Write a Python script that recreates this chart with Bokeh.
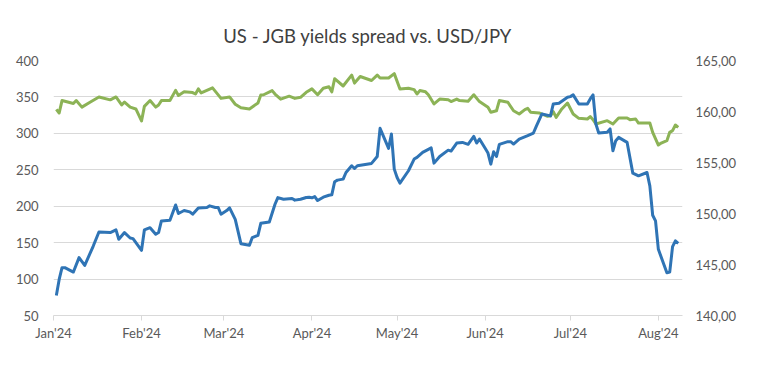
import pandas as pd
from bokeh.plotting import figure
from bokeh.models import Range1d, LinearAxis, FixedTicker
from bokeh.embed import file_html
from bokeh.resources import INLINE

# ---- data ----
spread_dates = ["2024-01-02","2024-01-03","2024-01-04","2024-01-08","2024-01-09","2024-01-11","2024-01-14",
    "2024-01-17","2024-01-21","2024-01-23","2024-01-25","2024-01-26","2024-01-28","2024-01-30","2024-02-01",
    "2024-02-02","2024-02-04","2024-02-06","2024-02-07","2024-02-08","2024-02-11","2024-02-13","2024-02-14",
    "2024-02-16","2024-02-19","2024-02-20","2024-02-21","2024-02-22","2024-02-26","2024-02-29","2024-03-03",
    "2024-03-05","2024-03-07","2024-03-10","2024-03-13","2024-03-14","2024-03-15","2024-03-18","2024-03-19",
    "2024-03-21","2024-03-24","2024-03-26","2024-03-28","2024-03-30","2024-04-01","2024-04-03","2024-04-05",
    "2024-04-07","2024-04-08","2024-04-09","2024-04-12","2024-04-15","2024-04-16","2024-04-18","2024-04-22",
    "2024-04-24","2024-04-25","2024-04-28","2024-04-30","2024-05-02","2024-05-05","2024-05-07","2024-05-08",
    "2024-05-09","2024-05-11","2024-05-12","2024-05-14","2024-05-16","2024-05-19","2024-05-20","2024-05-22",
    "2024-05-23","2024-05-26","2024-05-28","2024-05-30","2024-06-02","2024-06-03","2024-06-05","2024-06-06",
    "2024-06-09","2024-06-11","2024-06-13","2024-06-15","2024-06-16","2024-06-17","2024-06-20","2024-06-23",
    "2024-06-24","2024-06-25","2024-06-26","2024-06-28","2024-06-30","2024-07-02","2024-07-04","2024-07-07",
    "2024-07-08","2024-07-09","2024-07-10","2024-07-14","2024-07-16","2024-07-18","2024-07-21","2024-07-22",
    "2024-07-24","2024-07-25","2024-07-29","2024-07-30","2024-08-01","2024-08-02","2024-08-04","2024-08-05",
    "2024-08-06","2024-08-07","2024-08-08"]
spread_values = [333,328,345,341,345,336,343,350,346,350,339,343,336,333.5,317,
    337,345,336,339,345,345,359,352,357,356,354,361,355.5,362.4,348,350,
    340,335,333.5,341.7,352.8,353,358.7,354,347,351,348,349.5,356.4,361,353,362,
    364,357,375,365,380,369,378,372.5,380,376,376,382,361,362,360,354,
    358.7,357,353,340.4,347,346,343.6,347,345,344,353,343.6,335.8,329,331,345,
    342.7,331,326.6,332.6,334.4,329,328,323.4,324,329.8,322,333.5,341.7,326.6,320.6,319.7,
    323,318.8,312.8,317.4,312.8,321,321,318.8,319.7,314.2,314.2,301.4,284,286.7,290,301.4,
    303.7,311.5,308.3]

usdjpy_dates = ["2024-01-02","2024-01-03","2024-01-04","2024-01-05","2024-01-08","2024-01-10","2024-01-12",
    "2024-01-15","2024-01-17","2024-01-21","2024-01-23","2024-01-24","2024-01-26","2024-01-28","2024-01-29",
    "2024-02-01","2024-02-02","2024-02-04","2024-02-06","2024-02-07","2024-02-08","2024-02-11","2024-02-13",
    "2024-02-14","2024-02-16","2024-02-18","2024-02-19","2024-02-21","2024-02-24","2024-02-25","2024-02-27",
    "2024-02-28","2024-02-29","2024-03-02","2024-03-03","2024-03-05","2024-03-07","2024-03-10","2024-03-11",
    "2024-03-13","2024-03-14","2024-03-17","2024-03-19","2024-03-20","2024-03-22","2024-03-25","2024-03-26",
    "2024-03-28","2024-03-30","2024-03-31","2024-04-01","2024-04-02","2024-04-03","2024-04-05","2024-04-07",
    "2024-04-08","2024-04-09","2024-04-10","2024-04-12","2024-04-13","2024-04-15","2024-04-16","2024-04-17",
    "2024-04-22","2024-04-24","2024-04-25","2024-04-28","2024-04-29","2024-04-30","2024-05-01","2024-05-02",
    "2024-05-05","2024-05-07","2024-05-08","2024-05-10","2024-05-13","2024-05-14","2024-05-16","2024-05-19",
    "2024-05-20","2024-05-22","2024-05-24","2024-05-26","2024-05-28","2024-05-29","2024-05-30","2024-06-01",
    "2024-06-02","2024-06-03","2024-06-04","2024-06-05","2024-06-06","2024-06-09","2024-06-10","2024-06-11",
    "2024-06-13","2024-06-16","2024-06-18","2024-06-19","2024-06-21","2024-06-24","2024-06-25","2024-06-27",
    "2024-06-30","2024-07-01","2024-07-02","2024-07-04","2024-07-07","2024-07-08","2024-07-09","2024-07-10",
    "2024-07-11","2024-07-14","2024-07-15","2024-07-16","2024-07-17","2024-07-18","2024-07-21","2024-07-23",
    "2024-07-25","2024-07-28","2024-07-29","2024-07-30","2024-07-31","2024-08-01","2024-08-04","2024-08-05",
    "2024-08-06","2024-08-07","2024-08-08"]
usdjpy_values = [141.96,143.54,144.69,144.69,144.26,145.67,144.91,
    146.81,148.19,148.13,148.39,147.47,148.13,147.60,147.54,
    146.39,148.39,148.61,147.96,148.13,149.27,149.34,150.84,
    150.00,150.29,150.16,149.93,150.55,150.59,150.75,150.59,
    150.59,149.93,150.29,150.55,149.43,147.04,146.88,147.64,
    147.86,149.04,149.17,150.91,151.56,151.40,151.47,151.31,
    151.40,151.57,151.60,151.54,151.66,151.27,151.60,151.79,
    151.83,153.11,153.27,153.37,154.02,154.68,154.41,154.68,
    154.91,155.59,158.35,156.39,157.79,154.35,153.53,152.98,
    154.19,155.34,155.50,155.99,156.43,154.94,155.59,156.21,
    156.12,156.91,156.97,156.78,157.56,156.91,157.30,156.39,
    155.93,154.84,156.06,155.59,156.78,157.04,157.04,156.81,
    157.30,157.63,157.89,158.54,159.76,159.57,160.74,160.81,
    161.39,161.46,161.63,160.74,160.74,161.23,161.63,158.77,
    157.89,157.96,158.29,156.15,157.14,157.46,156.97,153.96,
    153.69,154.02,152.71,149.83,149.27,146.49,144.19,144.26,
    146.75,147.31,147.08]

month_ticks = ["2024-01-01","2024-02-01","2024-03-01","2024-04-01","2024-05-01","2024-06-01","2024-07-01","2024-08-01"]
month_labels = ["Jan'24","Feb'24","Mar'24","Apr'24","May'24","Jun'24","Jul'24","Aug'24"]
left_ticks = [50, 100, 150, 200, 250, 300, 350, 400]
right_ticks = [140, 145, 150, 155, 160, 165]
right_labels = ["140,00", "145,00", "150,00", "155,00", "160,00", "165,00"]

title_text = "US - JGB yields spread vs. USD/JPY"

# ---- figure ----
FONT = "Lato"
TXT = "#595959"
GRID = "#d9d9d9"

p = figure(width=759, height=365, x_axis_type="datetime",
           output_backend="svg", toolbar_location=None,
           x_range=Range1d(pd.Timestamp("2024-01-01"), pd.Timestamp("2024-08-09 12:00")),
           y_range=Range1d(50, 400),
           min_border_left=53, min_border_right=77, min_border_top=60, min_border_bottom=50,
           title=title_text)
p.outline_line_color = None
p.background_fill_color = "white"
p.border_fill_color = "white"

p.title.align = "center"
p.title.text_font = FONT
p.title.text_font_size = "18.5px"
p.title.text_font_style = "normal"
p.title.text_color = "#404040"
p.title.standoff = 28

p.extra_y_ranges = {"fx": Range1d(140, 165)}

# x axis
xa = p.xaxis[0]
tick_ms = [pd.Timestamp(d).value // 10**6 for d in month_ticks]
xa.ticker = FixedTicker(ticks=tick_ms)
xa.major_label_overrides = {t: l for t, l in zip(tick_ms, month_labels)}
xa.axis_line_color = GRID
xa.major_tick_line_color = GRID
xa.major_tick_out = 5
xa.major_tick_in = 0
xa.minor_tick_line_color = None
xa.major_label_text_font = FONT
xa.major_label_text_font_size = "13px"
xa.major_label_text_color = TXT
xa.major_label_standoff = 4

# left axis
ya = p.yaxis[0]
ya.ticker = FixedTicker(ticks=left_ticks)
ya.axis_line_color = None
ya.major_tick_line_color = None
ya.minor_tick_line_color = None
ya.major_label_text_font = FONT
ya.major_label_text_font_size = "13px"
ya.major_label_text_color = TXT
ya.major_label_standoff = 9

# right axis
ra = LinearAxis(y_range_name="fx", ticker=FixedTicker(ticks=right_ticks))
ra.major_label_overrides = {float(t): l for t, l in zip(right_ticks, right_labels)}
ra.axis_line_color = None
ra.major_tick_line_color = None
ra.minor_tick_line_color = None
ra.major_label_text_font = FONT
ra.major_label_text_font_size = "13px"
ra.major_label_text_color = TXT
ra.major_label_standoff = 7
p.add_layout(ra, "right")

p.xgrid.grid_line_color = None
p.ygrid.grid_line_color = GRID
p.ygrid.grid_line_width = 1

p.line(pd.to_datetime(spread_dates), spread_values, line_color="#8cb356", line_width=3, line_join="round")
p.line(pd.to_datetime(usdjpy_dates), usdjpy_values, y_range_name="fx",
       line_color="#2f74b5", line_width=3, line_join="round")

open("out.html", "w").write(file_html(p, INLINE))
